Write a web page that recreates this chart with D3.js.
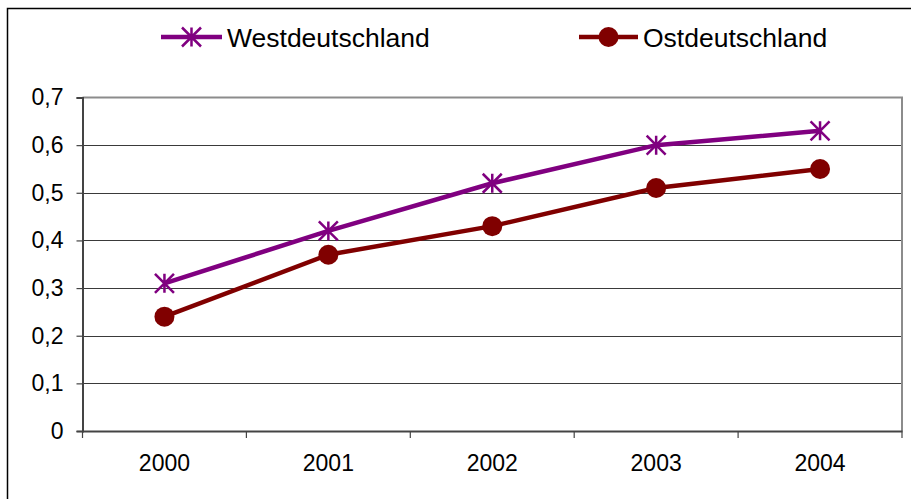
<!DOCTYPE html>
<html>
<head>
<meta charset="utf-8">
<script src="https://cdn.jsdelivr.net/npm/d3@7"></script>
<style>
  body { margin: 0; background: #fff; }
  #chart { width: 911px; height: 499px; }
  text { font-family: "Liberation Sans", Arial, sans-serif; fill: #000; }
</style>
</head>
<body>
<div id="chart"></div>
<script>
const years = ["2000", "2001", "2002", "2003", "2004"];
const west = [0.31, 0.42, 0.52, 0.60, 0.63];
const ost = [0.24, 0.37, 0.43, 0.51, 0.55];
const yTicks = [0, 0.1, 0.2, 0.3, 0.4, 0.5, 0.6, 0.7];

const width = 911, height = 499;
const svg = d3.select("#chart").append("svg")
    .attr("width", width)
    .attr("height", height);

// outer frame
svg.append("rect")
    .attr("x", 7.5).attr("y", 8.5)
    .attr("width", 920).attr("height", 520)
    .attr("fill", "none")
    .attr("stroke", "#000")
    .attr("stroke-width", 1.5);

const plot = { left: 82.5, right: 902, top: 97.5, bottom: 431 };

const x = d3.scaleBand().domain(years).range([plot.left, plot.right]);
const y = d3.scaleLinear().domain([0, 0.7]).range([plot.bottom, plot.top]);
const fmt = d => d3.format(".1f")(d).replace(".", ",").replace(/^0,0$/, "0");

// gridlines
svg.append("g")
    .selectAll("line")
    .data(yTicks.filter(d => d > 0 && d < 0.7))
    .enter().append("line")
    .attr("x1", plot.left).attr("x2", plot.right)
    .attr("y1", d => Math.round(y(d)) + 0.5).attr("y2", d => Math.round(y(d)) + 0.5)
    .attr("stroke", "#3a3a3a")
    .attr("stroke-width", 1);

// plot border (top and right, gray)
svg.append("path")
    .attr("d", `M${plot.left},${plot.top}H${plot.right}V${plot.bottom}`)
    .attr("fill", "none")
    .attr("stroke", "#8c8c8c")
    .attr("stroke-width", 2);

// y axis
const yAxis = svg.append("g")
    .attr("transform", `translate(${plot.left},0)`)
    .call(d3.axisLeft(y).tickValues(yTicks).tickFormat(fmt).tickSize(6).tickPadding(13));
yAxis.select(".domain").attr("stroke", "#444").attr("stroke-width", 2);
yAxis.selectAll(".tick line").attr("stroke", "#444").attr("stroke-width", 1.2);
yAxis.selectAll(".tick text")
    .style("font-size", "23px")
    .style("font-family", "'Liberation Sans', Arial, sans-serif");

// x axis with ticks between categories
const xAxis = svg.append("g")
    .attr("transform", `translate(0,${plot.bottom})`)
    .call(d3.axisBottom(x).tickSize(0).tickPadding(24));
xAxis.select(".domain").attr("stroke", "#444").attr("stroke-width", 2);
xAxis.selectAll(".tick text")
    .style("font-size", "23px")
    .style("font-family", "'Liberation Sans', Arial, sans-serif");
const bounds = years.map(d => x(d)).concat([plot.right]);
xAxis.selectAll(".sep")
    .data(bounds)
    .enter().append("line")
    .attr("class", "sep")
    .attr("x1", d => d).attr("x2", d => d)
    .attr("y1", 0).attr("y2", 7)
    .attr("stroke", "#444")
    .attr("stroke-width", 1.2);

const line = d3.line()
    .x((d, i) => x(years[i]) + x.bandwidth() / 2)
    .y(d => y(d));

// Excel-style star: X plus a vertical stroke
function star(g, cx, cy, color) {
    const r = 9.5;
    g.append("path")
        .attr("transform", `translate(${cx},${cy})`)
        .attr("d", `M0,${-r}V${r}M${-r},${-r}L${r},${r}M${r},${-r}L${-r},${r}`)
        .attr("fill", "none")
        .attr("stroke", color)
        .attr("stroke-width", 2.5);
}

// Westdeutschland
svg.append("path")
    .datum(west)
    .attr("d", line)
    .attr("fill", "none")
    .attr("stroke", "#800080")
    .attr("stroke-width", 4.5);
west.forEach((d, i) => star(svg, x(years[i]) + x.bandwidth() / 2, y(d), "#800080"));

// Ostdeutschland
svg.append("path")
    .datum(ost)
    .attr("d", line)
    .attr("fill", "none")
    .attr("stroke", "#800000")
    .attr("stroke-width", 4.5);
svg.selectAll(".dot")
    .data(ost)
    .enter().append("circle")
    .attr("class", "dot")
    .attr("cx", (d, i) => x(years[i]) + x.bandwidth() / 2)
    .attr("cy", d => y(d))
    .attr("r", 10)
    .attr("fill", "#800000");

// legend
const legY = 37;
const leg = svg.append("g");
leg.append("line").attr("x1", 161).attr("x2", 222).attr("y1", legY).attr("y2", legY)
    .attr("stroke", "#800080").attr("stroke-width", 4.5);
star(leg, 191.5, legY, "#800080");
leg.append("text").attr("x", 227).attr("y", legY + 9.5)
    .style("font-size", "26.5px").text("Westdeutschland");

leg.append("line").attr("x1", 579).attr("x2", 638).attr("y1", legY).attr("y2", legY)
    .attr("stroke", "#800000").attr("stroke-width", 4.5);
leg.append("circle").attr("cx", 608.5).attr("cy", legY).attr("r", 10).attr("fill", "#800000");
leg.append("text").attr("x", 643).attr("y", legY + 9.5)
    .style("font-size", "26.5px").text("Ostdeutschland");
</script>
</body>
</html>
